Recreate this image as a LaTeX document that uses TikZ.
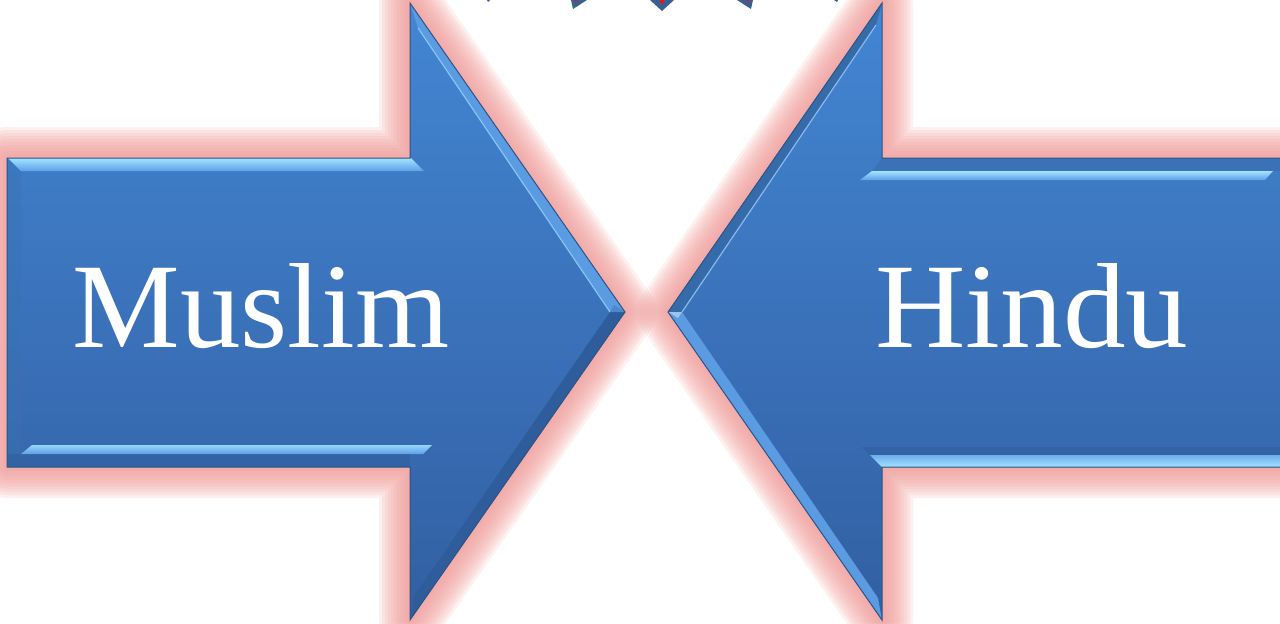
\documentclass[tikz,border=0pt]{standalone}
\usepackage{fontspec}
\setmainfont{Liberation Serif}
\definecolor{glowpink}{HTML}{F29C9A}
\definecolor{armtop}{HTML}{4386D3}
\definecolor{armbot}{HTML}{325FA2}
\definecolor{edgedark}{HTML}{2B5488}
\definecolor{hilite}{HTML}{A4E3FF}
\definecolor{hilitelow}{HTML}{5E9FE8}
\definecolor{diaglight}{HTML}{5A9BE2}
\definecolor{diagdark}{HTML}{2F5C9B}
\definecolor{banddark}{HTML}{3463A5}
\definecolor{starblue}{HTML}{3A6090}
\definecolor{starred}{HTML}{E8141E}
\tikzset{
  glow/.style={draw=glowpink, line join=round, opacity=0.15},
  armbody/.style={top color=armtop, bottom color=armbot},
  armedge/.style={draw=edgedark, line width=0.5pt, line join=miter},
  label/.style={text=white, font=\fontsize{60.5}{70}\selectfont, inner sep=0pt, anchor=base},
  starpt/.style={fill=starblue},
}
\begin{document}
\begin{tikzpicture}[x=0.5pt,y=-0.5pt]
\useasboundingbox (0,0) rectangle (1280,623);
\clip (0,0) rectangle (1280,623);
\fill[white] (0,0) rectangle (1280,623);

% star points at the top
\fill[starpt] (487,0) -- (490,0) -- (488,2) -- cycle;
\fill[starpt] (571,0) -- (587,0) -- (573,9) -- cycle;
\fill[starpt] (650,0) -- (674,0) -- (662,11) -- cycle;
\fill[starpt] (737,0) -- (753,0) -- (751,9) -- cycle;
\fill[starpt] (834,0) -- (838,0) -- (837,2) -- cycle;
\fill[starred] (662,1.5) circle (2.2);
\fill[starred] (576,0.5) circle (1.3);
\fill[starred] (748,0.5) circle (1.3);

% glows
\foreach \w in {31,28,25,22,19,16,13,10,7,4}{
  \draw[glow, line width=\w pt] (7,158) -- (410,158) -- (410,3) -- (625,312) -- (410,620) -- (410,467) -- (7,467) -- cycle;
  \draw[glow, line width=\w pt] (1300,158) -- (882,158) -- (882,3) -- (668,312) -- (882,620) -- (882,467) -- (1300,467) -- cycle;
}

% ---------- left arrow ----------
\shade[armbody] (7,158) -- (410,158) -- (410,3) -- (625,312) -- (410,620) -- (410,467) -- (7,467) -- cycle;
% left edge band
\fill[armtop!85!black, opacity=0.35] (7,158) -- (21,171) -- (21,454) -- (7,467) -- cycle;
% top highlight strip
\shade[top color=hilite, bottom color=hilitelow] (8,158) -- (411,158) -- (424,171) -- (21,171) -- cycle;
% bottom dark band and highlight strip
\fill[banddark] (8,454) -- (410,454) -- (410,467) -- (8,467) -- cycle;
\shade[top color=hilite!80!hilitelow, bottom color=hilitelow] (32,445) -- (432,445) -- (423,454) -- (21,454) -- cycle;
% head diagonals
\fill[diaglight] (410,3) -- (625,312) -- (610,312) -- (418,28) -- cycle;
\draw[hilite!60!diaglight, line width=0.6pt] (418,28) -- (610,312);
\fill[diagdark] (625,312) -- (410,620) -- (414,596) -- (610,312) -- cycle;
\fill[diaglight!70!diagdark] (614,305) -- (625,312) -- (610,312) -- cycle;
\draw[armedge] (7,158) -- (410,158) -- (410,3) -- (625,312) -- (410,620) -- (410,467) -- (7,467) -- cycle;

% ---------- right arrow ----------
\shade[armbody] (1300,158) -- (882,158) -- (882,3) -- (668,312) -- (882,620) -- (882,467) -- (1300,467) -- cycle;
% top: dark band and highlight strip
\fill[banddark!60!armtop] (882,158) -- (1290,158) -- (1290,171) -- (872,171) -- cycle;
\shade[top color=hilite, bottom color=hilitelow] (872,171) -- (1273,171) -- (1265,180) -- (860,180) -- cycle;
% bottom: dark band and highlight strip
\fill[banddark] (862,447) -- (1290,447) -- (1290,455) -- (870,455) -- cycle;
\shade[top color=hilitelow!80!hilite, bottom color=hilite] (870,455) -- (1290,455) -- (1290,467) -- (882,467) -- cycle;
% head diagonals
\fill[armtop!80!black] (882,3) -- (668,312) -- (682,312) -- (876,25) -- cycle;
\draw[diaglight!70!white, line width=0.6pt] (876,25) -- (682,312);
\fill[diaglight] (668,312) -- (882,620) -- (878,598) -- (682,312) -- cycle;
\fill[diaglight!60!white] (668,312) -- (682,312) -- (678,318) -- cycle;
\draw[armedge] (1300,158) -- (882,158) -- (882,3) -- (668,312) -- (882,620) -- (882,467) -- (1300,467) -- cycle;

% labels
\node[label] (muslim) at (261,347) {Muslim};
\node[label, xscale=1.035] (hindu) at (1032,347) {Hindu};
\end{tikzpicture}
\end{document}
